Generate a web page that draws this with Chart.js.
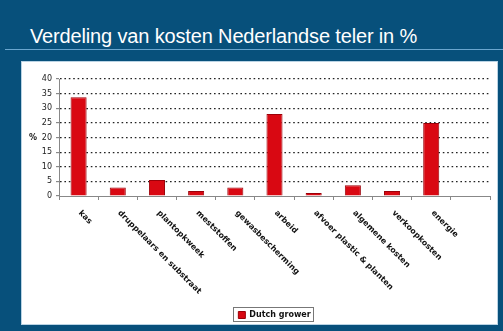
<!DOCTYPE html>
<html>
<head>
<meta charset="utf-8">
<script src="https://cdn.jsdelivr.net/npm/chart.js@4/dist/chart.umd.min.js"></script>
<style>
  html, body { margin: 0; padding: 0; }
  body { width: 503px; height: 331px; background: #07507b; position: relative; overflow: hidden; }
  #title { position: absolute; left: 30px; top: 26px; font: 20px "Liberation Sans", Arial, sans-serif; line-height: 20px; letter-spacing: -0.15px; color: #ffffff; white-space: nowrap; }
  #rule { position: absolute; left: 5px; top: 49px; width: 498px; height: 1px; background: #6aa6cf; }
  #panel { position: absolute; left: 21px; top: 61px; width: 475px; height: 262px; background: #ffffff; border: 1px solid #b9d3e4; }
  #chart { position: absolute; left: -1px; top: -1px; }
</style>
</head>
<body>
<div id="title">Verdeling van kosten Nederlandse teler in %</div>
<div id="rule"></div>
<div id="panel"><canvas id="chart" width="477" height="263"></canvas></div>
<script>
// Cost categories (the last slot is an empty category on the axis)
const categories = [
  'kas', 'druppelaars en substraat', 'plantopkweek', 'meststoffen',
  'gewasbescherming', 'arbeid', 'afvoer plastic & planten',
  'algemene kosten', 'verkoopkosten', 'energie', ''
];
// Share of total costs, in %
const dutchGrower = [33.8, 2.9, 5.5, 1.7, 2.9, 28, 1.0, 3.7, 1.7, 25, null];
const seriesName = 'Dutch grower';
const yTicks = { min: 0, max: 40, step: 5 };
const yTitle = '%';

// Category names drawn slanted downward, starting under each bar
const slantedLabels = {
  id: 'slantedLabels',
  afterDraw(chart) {
    const { ctx, scales: { x } } = chart;
    ctx.save();
    ctx.font = 'bold 8px "DejaVu Sans", Verdana, sans-serif';
    ctx.fillStyle = '#111';
    ctx.textAlign = 'left';
    ctx.textBaseline = 'top';
    chart.data.labels.forEach((label, i) => {
      if (!label) return;
      const px = x.getPixelForValue(i);
      ctx.save();
      ctx.translate(px + 4, x.top + 13);
      ctx.rotate(Math.PI / 4);
      ctx.fillText(label, 0, 0);
      ctx.restore();
    });
    ctx.restore();
  }
};

// Unit label next to the value axis
const unitLabel = {
  id: 'unitLabel',
  afterDraw(chart) {
    const { ctx, chartArea, scales: { y } } = chart;
    ctx.save();
    ctx.font = 'bold 8px "DejaVu Sans", Verdana, sans-serif';
    ctx.fillStyle = '#111';
    ctx.textAlign = 'center';
    ctx.textBaseline = 'middle';
    ctx.fillText(yTitle, y.left + 12, (chartArea.top + chartArea.bottom) / 2);
    ctx.restore();
  }
};

// Thin frame around the legend entry
const legendFrame = {
  id: 'legendFrame',
  afterDraw(chart) {
    const lg = chart.legend;
    if (!lg || !lg.legendHitBoxes || !lg.legendHitBoxes.length) return;
    const hb = lg.legendHitBoxes[0];
    const { ctx } = chart;
    ctx.save();
    ctx.strokeStyle = '#777';
    ctx.lineWidth = 1;
    ctx.strokeRect(Math.round(hb.left) - 4.5, Math.round(hb.top) - 3.5, Math.round(hb.width) + 8, Math.round(hb.height) + 6);
    ctx.restore();
  }
};

new Chart(document.getElementById('chart'), {
  type: 'bar',
  data: {
    labels: categories,
    datasets: [{
      label: seriesName,
      data: dutchGrower,
      backgroundColor: '#d90812',
      borderColor: '#9c0008',
      borderWidth: 1,
      barPercentage: 0.41,
      categoryPercentage: 1
    }]
  },
  options: {
    responsive: false,
    animation: false,
    layout: { padding: { top: 18, right: 8, left: 0, bottom: 0 } },
    plugins: {
      legend: {
        position: 'bottom',
        fullSize: false,
        maxHeight: 16,
        labels: {
          boxWidth: 7,
          boxHeight: 7,
          padding: 3,
          color: '#111',
          font: { family: '"DejaVu Sans", Verdana, sans-serif', size: 8, weight: 'bold' }
        }
      },
      tooltip: { enabled: false }
    },
    scales: {
      x: {
        ticks: { display: false },
        grid: { drawOnChartArea: false, drawTicks: true, tickLength: 4, tickColor: '#888', offset: true },
        border: { color: '#888', width: 1 },
        afterFit(s) { s.height = 112; }
      },
      y: {
        min: yTicks.min,
        max: yTicks.max,
        ticks: {
          stepSize: yTicks.step,
          padding: 4,
          color: '#222',
          font: { family: '"DejaVu Sans", Verdana, sans-serif', size: 8 }
        },
        grid: {
          color: (c) => (c.tick && c.tick.value === 0) ? 'rgba(0,0,0,0)' : '#222',
          lineWidth: 1.2,
          tickLength: 3,
          tickColor: '#888'
        },
        border: { color: '#888', width: 1, dash: [1.6, 2.8] },
        afterFit(s) { s.width = 38; }
      }
    }
  },
  plugins: [slantedLabels, unitLabel, legendFrame]
});
</script>
</body>
</html>
